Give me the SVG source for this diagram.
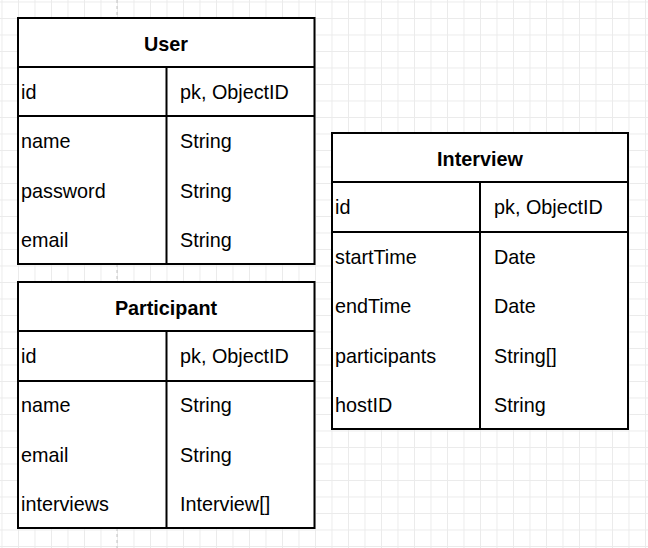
<svg xmlns="http://www.w3.org/2000/svg" width="648" height="548" viewBox="0 0 648 548">
<style>
.box{fill:#fff;stroke:#000;stroke-width:2}
.ln{stroke:#000;stroke-width:2;fill:none}
text{font-family:"Liberation Sans",Arial,sans-serif;font-size:19.8px;fill:#000}
.t{font-weight:bold;text-anchor:middle}
</style>
<defs>
<pattern id="grid" x="1.5" y="1.5" width="16.5" height="16.5" patternUnits="userSpaceOnUse">
<path d="M0 0.5H16.5M0.5 0V16.5" stroke="#ebebeb" stroke-width="1" fill="none"/>
</pattern>
</defs>
<rect width="648" height="548" fill="#fff"/>
<rect width="648" height="548" fill="url(#grid)"/>
<line x1="117" y1="0" x2="117" y2="548" stroke="#c2c2c2" stroke-width="1" stroke-dasharray="3,3"/>

<g id="User">
<rect class="box" x="18" y="18" width="296.5" height="246"/>
<path class="ln" d="M18 67H314.5M18 116H314.5M166.5 67V264"/>
<text class="t" x="166" y="51">User</text>
<text x="21" y="99">id</text><text x="180" y="99">pk, ObjectID</text>
<text x="21" y="148">name</text><text x="180" y="148">String</text>
<text x="21" y="198">password</text><text x="180" y="198">String</text>
<text x="21" y="247">email</text><text x="180" y="247">String</text>
</g>

<g id="Participant">
<rect class="box" x="18" y="282" width="296.5" height="246"/>
<path class="ln" d="M18 331H314.5M18 381H314.5M166.5 331V528"/>
<text class="t" x="166" y="315">Participant</text>
<text x="21" y="363">id</text><text x="180" y="363">pk, ObjectID</text>
<text x="21" y="412">name</text><text x="180" y="412">String</text>
<text x="21" y="462">email</text><text x="180" y="462">String</text>
<text x="21" y="511">interviews</text><text x="180" y="511">Interview[]</text>
</g>

<g id="Interview">
<rect class="box" x="332" y="133" width="296" height="296"/>
<path class="ln" d="M332 182H628M332 232H628M480 182V429"/>
<text class="t" x="480" y="166">Interview</text>
<text x="335" y="214">id</text><text x="494" y="214">pk, ObjectID</text>
<text x="335" y="264">startTime</text><text x="494" y="264">Date</text>
<text x="335" y="313">endTime</text><text x="494" y="313">Date</text>
<text x="335" y="363">participants</text><text x="494" y="363">String[]</text>
<text x="335" y="412">hostID</text><text x="494" y="412">String</text>
</g>

<g id="connectors"></g>
</svg>
